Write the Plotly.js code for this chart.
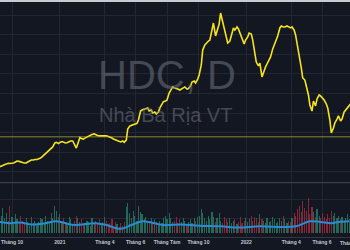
<!DOCTYPE html>
<html><head><meta charset="utf-8">
<script src="https://cdn.plot.ly/plotly-3.0.1.min.js"></script>
<style>html,body{margin:0;padding:0;background:#131722;}#chart{width:350px;height:250px;}</style>
</head><body><div id="chart"></div>
<script>
var dates = [
'2020-09-07','2020-09-10','2020-09-14','2020-09-17','2020-09-21','2020-09-24',
'2020-09-28','2020-10-01','2020-10-05','2020-10-08','2020-10-12','2020-10-15','2020-10-19','2020-10-22',
'2020-10-26','2020-10-29','2020-11-02','2020-11-05','2020-11-09','2020-11-12','2020-11-16','2020-11-19','2020-11-23','2020-11-26',
'2020-11-30','2020-12-03','2020-12-07','2020-12-10','2020-12-14','2020-12-17','2020-12-21','2020-12-24','2020-12-28','2020-12-31',
'2021-01-04','2021-01-07','2021-01-11','2021-01-14','2021-01-18','2021-01-21','2021-01-25','2021-01-28',
'2021-02-01','2021-02-04','2021-02-08','2021-02-11','2021-02-15','2021-02-18','2021-02-22','2021-02-25',
'2021-03-01','2021-03-04','2021-03-08','2021-03-11','2021-03-15','2021-03-18','2021-03-22','2021-03-25','2021-03-29','2021-04-01',
'2021-04-05','2021-04-08','2021-04-12','2021-04-15','2021-04-19','2021-04-22','2021-04-26','2021-04-29','2021-05-03','2021-05-06','2021-05-10','2021-05-13',
'2021-05-17','2021-05-20','2021-05-24','2021-05-27','2021-05-31','2021-06-03','2021-06-07','2021-06-10',
'2021-06-14','2021-06-17','2021-06-21','2021-06-24','2021-06-28','2021-07-01','2021-07-05','2021-07-08','2021-07-12','2021-07-15','2021-07-19','2021-07-22','2021-07-26','2021-07-29',
'2021-08-02','2021-08-05','2021-08-09','2021-08-12','2021-08-16','2021-08-19','2021-08-23','2021-08-26','2021-08-30','2021-09-02','2021-09-06','2021-09-09','2021-09-13','2021-09-16','2021-09-20','2021-09-23','2021-09-27','2021-09-30',
'2021-10-04','2021-10-07','2021-10-11','2021-10-14','2021-10-18','2021-10-21','2021-10-25','2021-10-28','2021-11-01','2021-11-04','2021-11-08','2021-11-11','2021-11-15','2021-11-18','2021-11-22','2021-11-25',
'2021-11-29','2021-12-02','2021-12-06','2021-12-09','2021-12-13','2021-12-16','2021-12-20','2021-12-23','2021-12-27','2021-12-30','2022-01-03','2022-01-06','2022-01-10','2022-01-13','2022-01-17','2022-01-20',
'2022-01-24','2022-01-27','2022-01-31','2022-02-03','2022-02-07','2022-02-10','2022-02-14','2022-02-17','2022-02-21','2022-02-24','2022-02-28','2022-03-03','2022-03-07','2022-03-10','2022-03-14','2022-03-17','2022-03-21','2022-03-24','2022-03-28','2022-03-31',
'2022-04-04','2022-04-07','2022-04-11','2022-04-14','2022-04-18','2022-04-21','2022-04-25','2022-04-28','2022-05-02','2022-05-05','2022-05-09','2022-05-12',
'2022-05-16','2022-05-19','2022-05-23','2022-05-26','2022-05-30','2022-06-02','2022-06-06','2022-06-09','2022-06-13','2022-06-16','2022-06-20','2022-06-23',
'2022-06-27','2022-06-30','2022-07-04','2022-07-07','2022-07-11','2022-07-14','2022-07-18','2022-07-21','2022-07-25','2022-07-28'
];
var price = [
12.6,12.8,13.3,13.8,14.1,14.4,
14.3,14.4,14.6,15.1,15.6,15.4,15.3,14.8,
14.6,14.6,15.1,15.6,16.1,16.1,16.4,16.4,16.6,17.1,
17.7,18.7,19.7,20.7,21.2,22.0,22.8,24.8,25.1,24.5,
25.1,25.5,25.1,24.8,24.9,25.6,25.8,25.8,
24.3,22.2,24.3,27.6,27.1,26.8,27.3,27.9,
28.4,28.9,29.1,29.4,28.9,28.6,28.4,28.4,28.6,28.6,
28.5,28.1,27.9,27.3,26.8,26.3,26.3,25.6,25.3,25.8,25.1,26.3,
31.9,33.5,33.7,34.0,34.2,34.8,36.5,41.1,
41.6,42.1,42.4,42.7,41.1,41.6,40.1,40.6,39.6,40.6,42.7,44.7,45.9,46.2,
46.7,50.3,51.8,53.4,52.9,52.3,52.3,51.8,52.3,52.9,53.4,52.3,52.6,53.9,55.9,56.4,55.4,57.4,
59.5,64.6,72.2,74.8,75.8,76.8,77.3,82.4,86.0,79.4,81.4,85.5,91.1,86.5,82.4,77.3,
75.8,76.8,79.4,83.5,82.4,84.0,83.0,79.9,77.3,75.3,77.3,78.9,80.9,80.4,77.3,71.2,
66.1,64.1,65.6,58.5,61.0,63.6,65.1,67.1,68.7,72.8,74.8,77.3,79.4,83.5,84.5,84.0,84.0,84.5,84.0,83.5,
84.0,82.4,79.9,74.3,69.7,63.1,58.0,56.9,53.9,49.3,44.2,41.1,
46.2,43.7,47.2,49.3,48.8,47.8,46.7,44.7,42.7,36.5,29.9,32.4,
35.0,37.0,38.6,36.0,37.0,40.6,41.6,43.2,44.2,45.2
];
var volume = [
18,14,20,12,16,10,
22,13,9,15,11,8,14,10,
7,12,9,6,13,8,10,7,9,12,
11,8,14,10,9,16,12,22,18,13,
15,10,12,9,8,13,11,7,
10,14,12,9,11,7,8,10,
9,6,12,8,10,7,11,8,9,13,
10,7,8,11,6,9,7,5,8,6,9,21,
24,16,12,18,14,10,22,17,
15,11,13,9,10,12,8,11,9,7,10,8,12,14,
11,16,12,9,10,13,8,11,9,12,10,7,9,11,8,12,10,13,
14,19,16,12,10,14,11,17,13,9,12,16,10,8,13,11,
9,12,8,10,11,7,9,13,8,10,12,9,11,14,10,13,
12,9,15,11,10,8,12,9,10,13,11,8,9,12,10,14,11,8,10,9,
12,16,14,19,22,17,26,20,18,28,15,21,
17,13,19,14,12,16,13,11,15,12,18,14,
16,12,14,11,13,10,12,15,11,13
];
var maDates = ['2020-09-07','2020-09-28','2020-10-19','2020-11-09','2020-12-07','2020-12-28','2021-02-01','2021-03-15','2021-04-05','2021-05-03','2021-05-24','2021-06-14','2021-06-28','2021-07-26','2021-08-30','2021-10-04','2021-11-15','2021-12-20','2022-01-31','2022-03-14','2022-04-11','2022-05-09','2022-05-30','2022-06-20','2022-07-04','2022-07-25'];
var volumeMA = [9,8,8.5,7,8,9.5,6.5,8,6.5,3.5,6.5,9.5,9,6.5,7,6,5.5,4.5,5.5,5,5.5,9.5,9,8,9,9.5];
var refLevel = [28.0];
var tickDates = ['2020-10-01','2021-01-04','2021-04-01','2021-06-01','2021-08-02','2021-10-01','2022-01-04','2022-04-01','2022-06-01'];
var tickLabels = ['Tháng 10','2021','Tháng 4','Tháng 6','Tháng Tám','Tháng 10','2022','Tháng 4','Tháng 6'];
var symbolTitle = 'HDC, D';
var companyName = 'Nhà Bà Rịa VT';

var barColors = volume.map(function(v,i){
  var up = i === 0 ? true : price[i] >= price[i-1];
  return up ? 'rgba(38,120,96,0.85)' : 'rgba(150,44,60,0.85)';
});

var gridC = '#222632';
var tickFont = {family:'Liberation Sans, Arial, sans-serif', size:5, color:'#c3c6ce', weight:'bold'};

var traces = [
  {x:dates, y:volume, type:'bar', xaxis:'x', yaxis:'y2', marker:{color:barColors, line:{width:0}}, width:86400000*1.6, hoverinfo:'skip'},
  {x:maDates, y:volumeMA, type:'scatter', mode:'lines', xaxis:'x', yaxis:'y2', line:{color:'#2a8bd5', width:2, shape:'spline'}, hoverinfo:'skip'},
  {x:dates, y:price, type:'scatter', mode:'lines', xaxis:'x', yaxis:'y', line:{color:'#f5e41c', width:1.6}, hoverinfo:'skip'}
];

var layout = {
  width:350, height:250,
  margin:{l:0, r:0, t:2, b:13},
  paper_bgcolor:'#131722', plot_bgcolor:'#131722',
  showlegend:false,
  bargap:0,
  xaxis:{type:'date', anchor:'y2', range:['2020-09-08 04:48','2022-07-26 04:48'],
    rangebreaks:[{bounds:['sat','mon']}],
    tickmode:'array', tickvals:tickDates, ticktext:tickLabels, ticklabeloverflow:'allow',
    showgrid:true, gridcolor:gridC, gridwidth:1, ticks:'', tickfont:tickFont,
    showline:true, linecolor:'#343844', linewidth:1, zeroline:false, fixedrange:true},
  yaxis:{domain:[0.232,1], range:[4.64,96.73], tick0:0, dtick:10, showgrid:true, gridcolor:gridC,
    showticklabels:false, zeroline:false, fixedrange:true},
  yaxis2:{domain:[0,0.2298], range:[-3,40], tickmode:'array', tickvals:[12,27], showgrid:true, gridcolor:gridC,
    showticklabels:false, zeroline:false, fixedrange:true},
  shapes:[
    {type:'line', xref:'paper', x0:0, x1:1, yref:'y', y0:refLevel[0], y1:refLevel[0], line:{color:'rgba(200,190,60,0.45)', width:1.5}},
    {type:'line', xref:'paper', x0:0, x1:1, yref:'paper', y0:0.2315, y1:0.2315, line:{color:'#3a3e4a', width:1.2}},
    {type:'rect', xref:'paper', x0:0, x1:1, yref:'paper', ysizemode:'pixel', yanchor:1, y0:0, y1:2, fillcolor:'#c9cbd0', line:{width:0}}
  ],
  annotations:[
    {text:symbolTitle, xref:'paper', yref:'paper', x:0.477, y:0.689, xanchor:'center', yanchor:'middle', showarrow:false,
     font:{family:'Liberation Sans, Arial, sans-serif', size:40, color:'rgba(120,123,134,0.5)'}},
    {text:companyName, xref:'paper', yref:'paper', x:0.474, y:0.519, xanchor:'center', yanchor:'middle', showarrow:false,
     font:{family:'Liberation Sans, Arial, sans-serif', size:20, color:'rgba(120,123,134,0.5)'}},
    {text:'Tháng Tám', xref:'paper', yref:'paper', x:1.0086, y:-0.026, xanchor:'center', yanchor:'middle', showarrow:false,
     font:tickFont}
  ]
};
Plotly.newPlot('chart', traces, layout, {displayModeBar:false, staticPlot:true});
</script>
</body></html>
